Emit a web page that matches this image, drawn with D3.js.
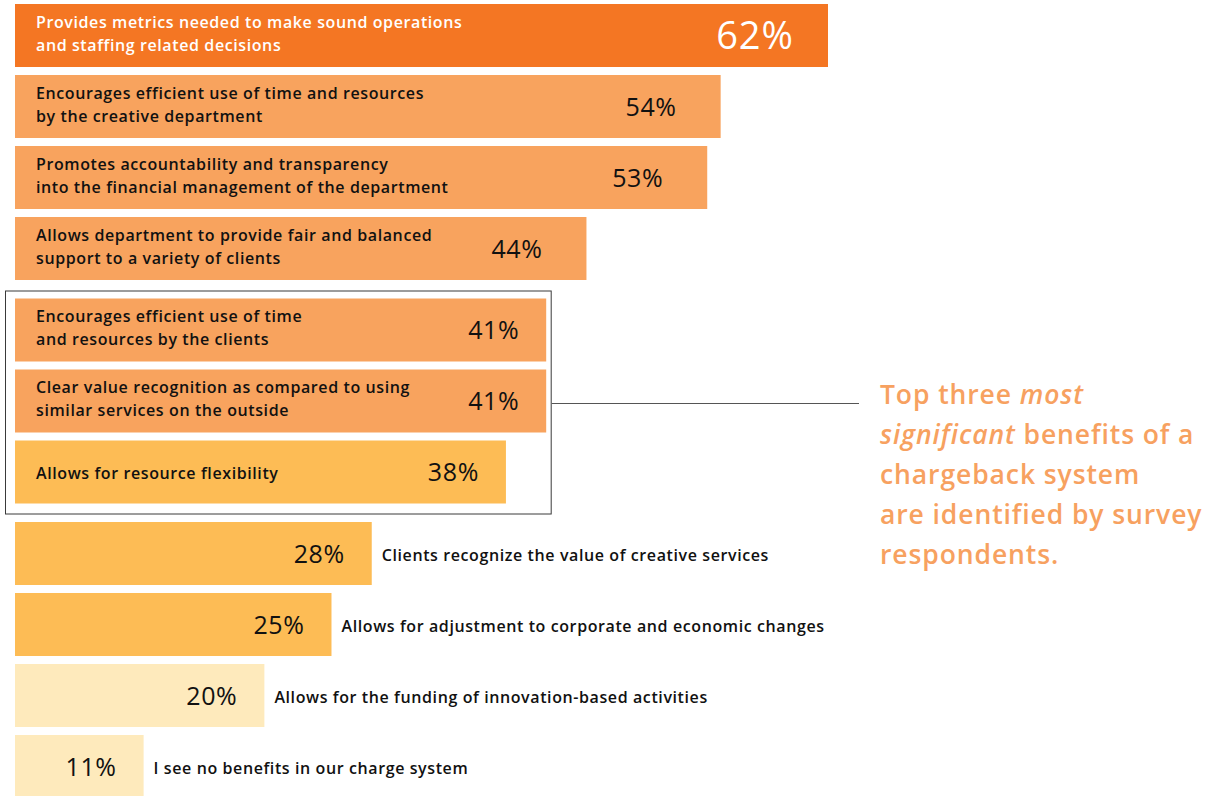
<!DOCTYPE html>
<html>
<head>
<meta charset="utf-8">
<script src="https://cdn.jsdelivr.net/npm/d3@7"></script>
<style>
  html, body { margin: 0; padding: 0; background: #ffffff; }
  svg { display: block; }
</style>
</head>
<body>
<svg id="chart" width="1208" height="796"></svg>
<script>
// ---- Data ----
const categories = [
  ["Provides metrics needed to make sound operations", "and staffing related decisions"],
  ["Encourages efficient use of time and resources", "by the creative department"],
  ["Promotes accountability and transparency", "into the financial management of the department"],
  ["Allows department to provide fair and balanced", "support to a variety of clients"],
  ["Encourages efficient use of time", "and resources by the clients"],
  ["Clear value recognition as compared to using", "similar services on the outside"],
  ["Allows for resource flexibility"],
  ["Clients recognize the value of creative services"],
  ["Allows for adjustment to corporate and economic changes"],
  ["Allows for the funding of innovation-based activities"],
  ["I see no benefits in our charge system"]
];
const values = [62, 54, 53, 44, 41, 41, 38, 28, 25, 20, 11];
const tiers = [0, 1, 1, 1, 1, 1, 2, 2, 2, 3, 3];          // colour tier
const groups = [0, 0, 0, 0, 1, 1, 1, 2, 2, 2, 2];         // layout group (box = group 1)
const annotation = [
  [{t: "Top three ", i: false}, {t: "most", i: true}],
  [{t: "significant", i: true}, {t: " benefits of a", i: false}],
  [{t: "chargeback system", i: false}],
  [{t: "are identified by survey", i: false}],
  [{t: "respondents.", i: false}]
];

// ---- Styles ----
const tierColors = ["#f47623", "#f8a35e", "#fdbc55", "#feeabc"];
const textFont = "'Open Sans', sans-serif";

const svg = d3.select("#chart");

// ---- Scales ----
const x = d3.scaleLinear().domain([0, 62]).range([-4, 828]);
const barLeft = 15;
const barH = 63, step = 71, groupGap = 10.5, top0 = 4;
const yPos = i => top0 + i * step + groups[i] * groupGap;

const rows = svg.append("g").selectAll("g").data(values).join("g")
  .attr("transform", (d, i) => `translate(0,${yPos(i)})`);

rows.append("rect")
  .attr("x", barLeft)
  .attr("y", 0)
  .attr("width", d => x(d) - barLeft)
  .attr("height", barH)
  .attr("fill", (d, i) => tierColors[tiers[i]]);

// Percent labels
const pad = i => i === 0 ? 34 : (i <= 3 ? 44 : 27);
rows.append("text")
  .attr("x", (d, i) => x(d) - pad(i))
  .attr("y", (d, i) => barH / 2 + (i === 0 ? 13 : 9))
  .attr("text-anchor", "end")
  .attr("font-family", textFont)
  .attr("font-weight", 500)
  .attr("font-size", (d, i) => i === 0 ? 38 : 25)
  .attr("letter-spacing", (d, i) => i === 0 ? "1px" : "0.6px")
  .attr("fill", (d, i) => i === 0 ? "#ffffff" : "#111111")
  .text(d => d + "%");

// Category labels
rows.each(function(d, i) {
  const g = d3.select(this);
  const lines = categories[i];
  const inside = i < 7;
  const tx = inside ? 36 : x(d) + 10;
  const t = g.append("text")
    .attr("font-family", textFont)
    .attr("font-weight", 600)
    .attr("font-size", 16)
    .attr("letter-spacing", "0.6px")
    .attr("fill", i === 0 ? "#ffffff" : "#111111");
  if (lines.length === 2) {
    t.append("tspan").attr("x", tx).attr("y", barH / 2 - 8).text(lines[0]);
    t.append("tspan").attr("x", tx).attr("y", barH / 2 + 15).text(lines[1]);
  } else {
    t.append("tspan").attr("x", tx).attr("y", barH / 2 + 7).text(lines[0]);
  }
});

// Box around the top-three group
const boxTop = yPos(4) - 8;
const boxBottom = yPos(6) + barH + 10;
const boxRight = x(41) + 5;
svg.append("rect")
  .attr("x", 5.5).attr("y", boxTop + 0.5)
  .attr("width", boxRight - 5.5).attr("height", boxBottom - boxTop)
  .attr("fill", "none").attr("stroke", "#3a3a3a").attr("stroke-width", 1);

// Connector line
const lineY = Math.round(yPos(5) + barH / 2 + 2) + 0.5;
svg.append("line")
  .attr("x1", boxRight + 0.5).attr("x2", 859)
  .attr("y1", lineY).attr("y2", lineY)
  .attr("stroke", "#555555").attr("stroke-width", 1);

// Annotation
const ann = svg.append("text")
  .attr("font-family", textFont)
  .attr("font-weight", 600)
  .attr("font-size", 26.5)
  .attr("letter-spacing", "0.9px")
  .attr("fill", "#f7a160");
annotation.forEach((line, li) => {
  line.forEach((seg, si) => {
    const sp = ann.append("tspan")
      .attr("font-style", seg.i ? "italic" : "normal")
      .text(seg.t);
    if (si === 0) sp.attr("x", 880).attr("y", 404 + li * 40);
  });
});
</script>
</body>
</html>
